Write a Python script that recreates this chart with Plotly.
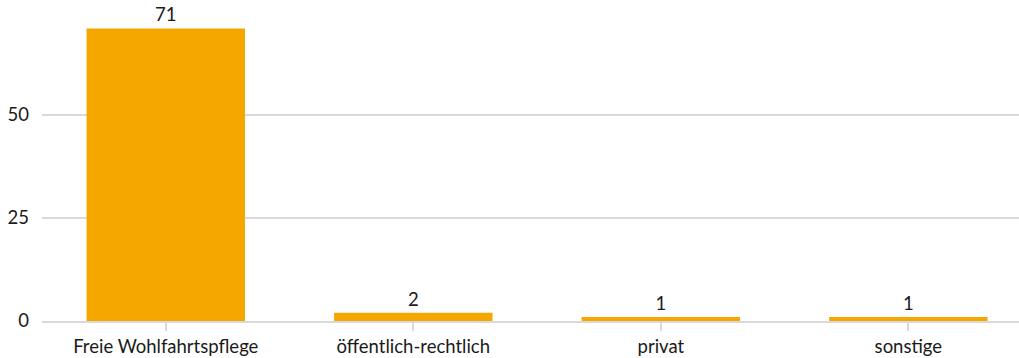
import plotly.graph_objects as go

categories = ["Freie Wohlfahrtspflege", "öffentlich-rechtlich", "privat", "sonstige"]
values = [71, 2, 1, 1]
y_ticks = [0, 25, 50]

BAR_COLOR = "#F5A700"
GRID = "#D9D9D9"
FONT = "Lato, 'Open Sans', sans-serif"
TEXT = "#1A1A1A"
SIZE = 18.5

fig = go.Figure(
    go.Bar(
        x=list(range(len(categories))),
        y=values,
        width=0.64,
        marker=dict(color=BAR_COLOR, line=dict(width=0)),
        text=[str(v) for v in values],
        textposition="outside",
        textfont=dict(family=FONT, size=SIZE, color=TEXT),
        cliponaxis=False,
    )
)

fig.update_layout(
    width=1019,
    height=358,
    margin=dict(l=42, r=0, t=12, b=37),
    paper_bgcolor="white",
    plot_bgcolor="white",
    showlegend=False,
    font=dict(family=FONT, size=SIZE, color=TEXT),
)

fig.update_xaxes(
    tickmode="array",
    tickvals=list(range(len(categories))),
    ticktext=categories,
    range=[-0.5, 3.447],
    showgrid=False,
    showline=True,
    linecolor=GRID,
    linewidth=2,
    ticks="outside",
    ticklen=8,
    tickwidth=2,
    tickcolor=GRID,
    tickfont=dict(family=FONT, size=SIZE, color=TEXT),
    zeroline=False,
)

fig.update_yaxes(
    tickmode="array",
    tickvals=y_ticks,
    ticktext=[str(t) for t in y_ticks],
    range=[0, 75],
    showgrid=True,
    gridcolor=GRID,
    gridwidth=2,
    showline=False,
    zeroline=False,
    ticks="",
    ticklabelstandoff=12,
    tickfont=dict(family=FONT, size=SIZE, color=TEXT),
)

fig.write_html("out.html")
